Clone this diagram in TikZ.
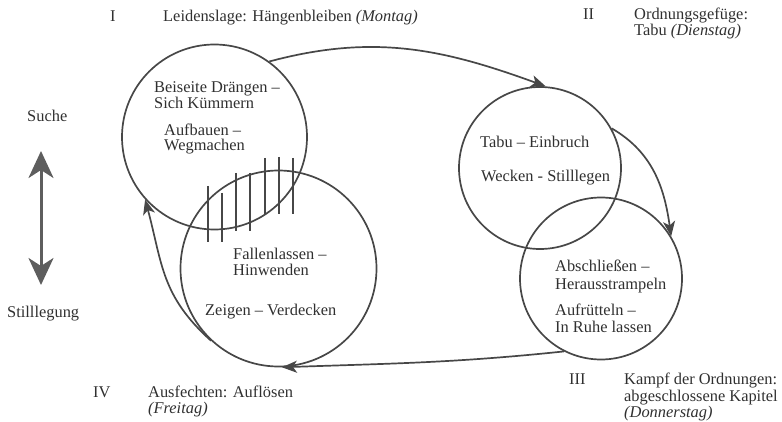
\documentclass[tikz,border=0pt]{standalone}
\usepackage{fontspec}
\setmainfont{Liberation Serif}
\usetikzlibrary{arrows.meta}
\definecolor{ln}{HTML}{474747}
\definecolor{txt}{HTML}{303030}
\definecolor{va}{HTML}{5E5E5E}
\tikzset{
  lbl/.style={anchor=base west, inner sep=0pt, text=txt, font=\fontsize{16.4}{17}\selectfont},
  ring/.style={circle, draw=ln, line width=1.7pt, inner sep=0pt},
  flow/.style={draw=ln, line width=1.7pt, -{Stealth[length=15pt,width=12pt,inset=4pt]}},
  hatch/.style={draw=ln, line width=1.4pt},
  varrow/.style={draw=va, line width=3pt, {Stealth[length=27pt,width=25pt,inset=8pt]}-{Stealth[length=27pt,width=25pt,inset=8pt]}}
}
\begin{document}
\begin{tikzpicture}[x=1pt,y=1pt]
\useasboundingbox (0,0) rectangle (782,-422);
% circles
\node[ring, minimum size=185pt] (c1) at (214.5,-137) {};
\node[ring, minimum size=162pt] (c2) at (540,-168) {};
\node[ring, minimum size=162pt] (c3) at (601,-278.5) {};
\node[ring, minimum size=196pt] (c4) at (278.5,-268.5) {};
% hatching
\draw[hatch] (208,-186) -- (208,-242);
\draw[hatch] (222,-193) -- (222,-242);
\draw[hatch] (236,-173) -- (236,-231);
\draw[hatch] (250,-173) -- (250,-231);
\draw[hatch] (265,-158) -- (265,-215);
\draw[hatch] (279,-157) -- (279,-214);
\draw[hatch] (293,-158) -- (293,-214);
% connectors
\draw[flow] (c1.54) to[out=15,in=160] (c2.86);
\draw[flow] (c2.29) to[out=-30,in=98] (c3.31);
\draw[flow] (c3.-117) to[out=186,in=2] (c4.-88);
\draw[flow] (c4.227) to[out=138,in=-75,looseness=1.1] (c1.222);
% vertical arrow
\coordinate (vt) at (41,-151);
\coordinate (vb) at (41,-285);
\draw[varrow] (vt) -- (vb);
\node[lbl] (suche) at (27,-122) {Suche};
\node[lbl] (still) at (7,-317) {Stilllegung};
% headings
\node[lbl] (n1) at (110,-22) {I};
\node[lbl] (t1) at (163,-22) {Leidenslage: Hängenbleiben \textit{(Montag)}};
\node[lbl] (n2) at (583,-20) {II};
\node[lbl] (t2a) at (634,-20) {Ordnungsgefüge:};
\node[lbl] (t2b) at (634,-36) {Tabu \textit{(Dienstag)}};
\node[lbl] (n3) at (569,-384) {III};
\node[lbl] (t3a) at (624,-384) {Kampf der Ordnungen:};
\node[lbl] (t3b) at (624,-401) {abgeschlossene Kapitel};
\node[lbl] (t3c) at (624,-417) {\textit{(Donnerstag)}};
\node[lbl] (n4) at (93,-397) {IV};
\node[lbl] (t4a) at (148,-397) {Ausfechten: Auflösen};
\node[lbl] (t4b) at (148,-413) {\textit{(Freitag)}};
% circle texts
\node[lbl] (a1) at (154,-93) {Beiseite Drängen –};
\node[lbl] (a2) at (154,-109) {Sich Kümmern};
\node[lbl] (a3) at (164,-136) {Aufbauen –};
\node[lbl] (a4) at (164,-151) {Wegmachen};
\node[lbl] (b1) at (480,-148) {Tabu – Einbruch};
\node[lbl] (b2) at (481,-182) {Wecken - Stilllegen};
\node[lbl] (d1) at (233,-260) {Fallenlassen –};
\node[lbl] (d2) at (233,-276) {Hinwenden};
\node[lbl] (d3) at (205,-315) {Zeigen – Verdecken};
\node[lbl] (e1) at (555,-272) {Abschließen –};
\node[lbl] (e2) at (555,-289) {Herausstrampeln};
\node[lbl] (e3) at (555,-315) {Aufrütteln –};
\node[lbl] (e4) at (555,-332) {In Ruhe lassen};
\end{tikzpicture}
\end{document}
